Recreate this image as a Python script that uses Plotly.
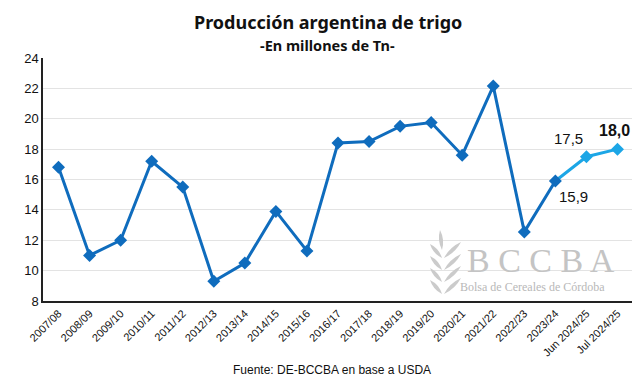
import plotly.graph_objects as go

campaigns = ["2007/08", "2008/09", "2009/10", "2010/11", "2011/12", "2012/13", "2013/14",
             "2014/15", "2015/16", "2016/17", "2017/18", "2018/19", "2019/20", "2020/21",
             "2021/22", "2022/23", "2023/24", "Jun 2024/25", "Jul 2024/25"]
production = [16.8, 11.0, 12.0, 17.2, 15.5, 9.3, 10.5, 13.9, 11.3, 18.4, 18.5, 19.5,
              19.75, 17.6, 22.15, 12.55, 15.9, 17.5, 18.0]
y_ticks = [8, 10, 12, 14, 16, 18, 20, 22, 24]

dark = "#0F6CBD"
light = "#1CA6E6"
n_hist = 17

fig = go.Figure()
# historical
fig.add_trace(go.Scatter(
    x=campaigns[:n_hist], y=production[:n_hist], mode="lines",
    line=dict(color=dark, width=3), hoverinfo="skip", showlegend=False))
# projected segment (light blue)
fig.add_trace(go.Scatter(
    x=campaigns[n_hist - 1:], y=production[n_hist - 1:], mode="lines",
    line=dict(color=light, width=3), hoverinfo="skip", showlegend=False))
fig.add_trace(go.Scatter(
    x=campaigns[n_hist:], y=production[n_hist:], mode="markers",
    marker=dict(symbol="diamond", size=10, color=light), showlegend=False))
fig.add_trace(go.Scatter(
    x=campaigns[:n_hist], y=production[:n_hist], mode="markers",
    marker=dict(symbol="diamond", size=10, color=dark), showlegend=False))

def fmt(v):
    return f"{v:.1f}".replace(".", ",")

ann = [
    dict(x=campaigns[16], y=production[16], text=fmt(production[16]), xanchor="left",
         yanchor="top", xshift=2, yshift=-5, showarrow=False,
         font=dict(family="Liberation Sans, Arial", size=15, color="#111")),
    dict(x=campaigns[17], y=production[17], text=fmt(production[17]), xanchor="right",
         yanchor="bottom", xshift=-1, yshift=8, showarrow=False,
         font=dict(family="Liberation Sans, Arial", size=15, color="#111")),
    dict(x=campaigns[18], y=production[18], text="<b>" + fmt(production[18]) + "</b>",
         xanchor="center", yanchor="bottom", xshift=-3, yshift=8, showarrow=False,
         font=dict(family="Liberation Sans, Arial", size=16, color="#111")),
    dict(xref="paper", yref="paper", x=0.483, y=1.148, text="<b>Producción argentina de trigo</b>",
         showarrow=False, xanchor="center", yanchor="middle",
         font=dict(family="Noto Sans", size=18, color="#111")),
    dict(xref="paper", yref="paper", x=0.483, y=1.053, text="<b>-En millones de Tn-</b>",
         showarrow=False, xanchor="center", yanchor="middle",
         font=dict(family="Noto Sans", size=14.5, color="#111")),
    dict(xref="paper", yref="paper", x=0.49, y=-0.284, text="Fuente: DE-BCCBA en base a USDA",
         showarrow=False, xanchor="center", yanchor="middle",
         font=dict(family="Liberation Sans, Arial", size=12, color="#111")),
    dict(xref="paper", yref="paper", x=0.844, y=0.165, text="B C C B A",
         showarrow=False, xanchor="center", yanchor="middle",
         font=dict(family="Liberation Serif", size=34, color="#c4c4c4")),
    dict(xref="paper", yref="paper", x=0.829, y=0.058, text="Bolsa de Cereales de Córdoba",
         showarrow=False, xanchor="center", yanchor="middle",
         font=dict(family="Liberation Serif", size=12, color="#b8b8b8")),
]

# wheat-ear logo (decoration), drawn in paper coordinates from pixel estimates
def px(x):
    return (x - 43) / 590

def py(y):
    return (301 - y) / 243

def leaf(x0, y0, x1, y1, w):
    # leaf from base (x0,y0) to tip (x1,y1) with half-width w (pixels)
    mx, my = (x0 + x1) / 2, (y0 + y1) / 2
    dx, dy = x1 - x0, y1 - y0
    n = (dx * dx + dy * dy) ** 0.5
    nx, ny = -dy / n * w, dx / n * w
    return (f"M {px(x0)} {py(y0)} Q {px(mx + nx)} {py(my + ny)} {px(x1)} {py(y1)} "
            f"Q {px(mx - nx)} {py(my - ny)} {px(x0)} {py(y0)} Z")

logo_color = "#cbcbcb"
shapes = [dict(type="path", xref="paper", yref="paper", path=leaf(442, 250, 440, 230, 4),
               fillcolor=logo_color, line=dict(width=0))]
for yb in [258, 270, 282, 294]:
    shapes.append(dict(type="path", xref="paper", yref="paper",
                       path=leaf(442, yb, 430, yb - 14, 4),
                       fillcolor=logo_color, line=dict(width=0)))
    shapes.append(dict(type="path", xref="paper", yref="paper",
                       path=leaf(444, yb, 461, yb - 16, 4),
                       fillcolor=logo_color, line=dict(width=0)))

# page body has an 8px margin, so the figure is shrunk and margins shifted by 8px
fig.update_layout(
    width=632, height=376,
    margin=dict(l=35, r=7, t=50, b=83),
    paper_bgcolor="white", plot_bgcolor="white",
    annotations=ann, shapes=shapes,
    font=dict(family="Liberation Sans, Arial", size=12, color="#111"),
)
fig.update_xaxes(
    type="category", categoryorder="array", categoryarray=campaigns,
    range=[-0.5, 18.5], tickangle=-45, automargin=False,
    showline=True, linecolor="#222", linewidth=1.5, showgrid=False,
    ticks="", tickfont=dict(size=11, color="#111"))
fig.update_yaxes(
    range=[8, 24], tickvals=y_ticks, showline=True, linecolor="#222", linewidth=1.5,
    showgrid=True, gridcolor="#e3e3e3", gridwidth=1, zeroline=False, ticks="",
    automargin=False, tickfont=dict(size=13, color="#111"))

fig.write_html("out.html")
